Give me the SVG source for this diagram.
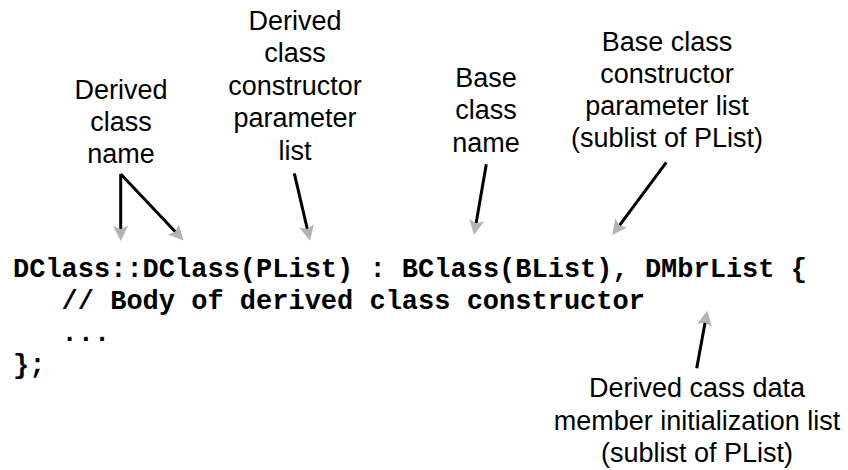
<svg xmlns="http://www.w3.org/2000/svg" width="848" height="470" viewBox="0 0 848 470">
<style>
.lbl{font-family:"Liberation Sans",Arial,sans-serif;font-size:27px;fill:#000;text-anchor:middle}
.code{font-family:"Liberation Mono","Courier New",monospace;font-size:27px;font-weight:bold;fill:#000}
.arr{stroke:#000;stroke-width:3;fill:none;marker-end:url(#ah)}
</style>
<defs>
<marker id="ah" markerUnits="userSpaceOnUse" markerWidth="16" markerHeight="16" refX="3" refY="8" orient="auto">
<path d="M0,0.5 L15,8 L0,15.5 L3,8 z" fill="#b3b3b3"/>
</marker>
</defs>
<rect width="848" height="470" fill="#fff"/>
<g id="label-derived-name">
<text class="lbl" x="121" y="99">Derived</text>
<text class="lbl" x="121" y="131">class</text>
<text class="lbl" x="121" y="163">name</text>
</g>
<g id="label-derived-params">
<text class="lbl" x="295" y="29.5">Derived</text>
<text class="lbl" x="295" y="62">class</text>
<text class="lbl" x="295" y="94.5">constructor</text>
<text class="lbl" x="295" y="127">parameter</text>
<text class="lbl" x="295" y="159.5">list</text>
</g>
<g id="label-base-name">
<text class="lbl" x="486" y="87">Base</text>
<text class="lbl" x="486" y="119">class</text>
<text class="lbl" x="486" y="151.5">name</text>
</g>
<g id="label-base-params">
<text class="lbl" x="667" y="50.5">Base class</text>
<text class="lbl" x="667" y="82.5">constructor</text>
<text class="lbl" x="667" y="114.5">parameter list</text>
<text class="lbl" x="667" y="146.5">(sublist of PList)</text>
</g>
<g id="label-member-init">
<text class="lbl" x="697" y="397">Derived cass data</text>
<text class="lbl" x="697" y="429.5">member initialization list</text>
<text class="lbl" x="697" y="462">(sublist of PList)</text>
</g>
<g id="code">
<text class="code" x="13" y="277">DClass::DClass(PList) : BClass(BList), DMbrList {</text>
<text class="code" x="61.6" y="309">// Body of derived class constructor</text>
<text class="code" x="61.6" y="341">...</text>
<text class="code" x="13" y="373">};</text>
</g>
<g id="connectors">
<line class="arr" x1="120.7" y1="174" x2="120.7" y2="229"/>
<line class="arr" x1="120.7" y1="174" x2="175.3" y2="231.8"/>
<line class="arr" x1="294.3" y1="173.3" x2="307.3" y2="229"/>
<line class="arr" x1="486.3" y1="164.3" x2="476.1" y2="223.2"/>
<line class="arr" x1="666.3" y1="162.3" x2="619.5" y2="225.4"/>
<line class="arr" x1="696.7" y1="368.3" x2="705.1" y2="322.5"/>
</g>
</svg>
